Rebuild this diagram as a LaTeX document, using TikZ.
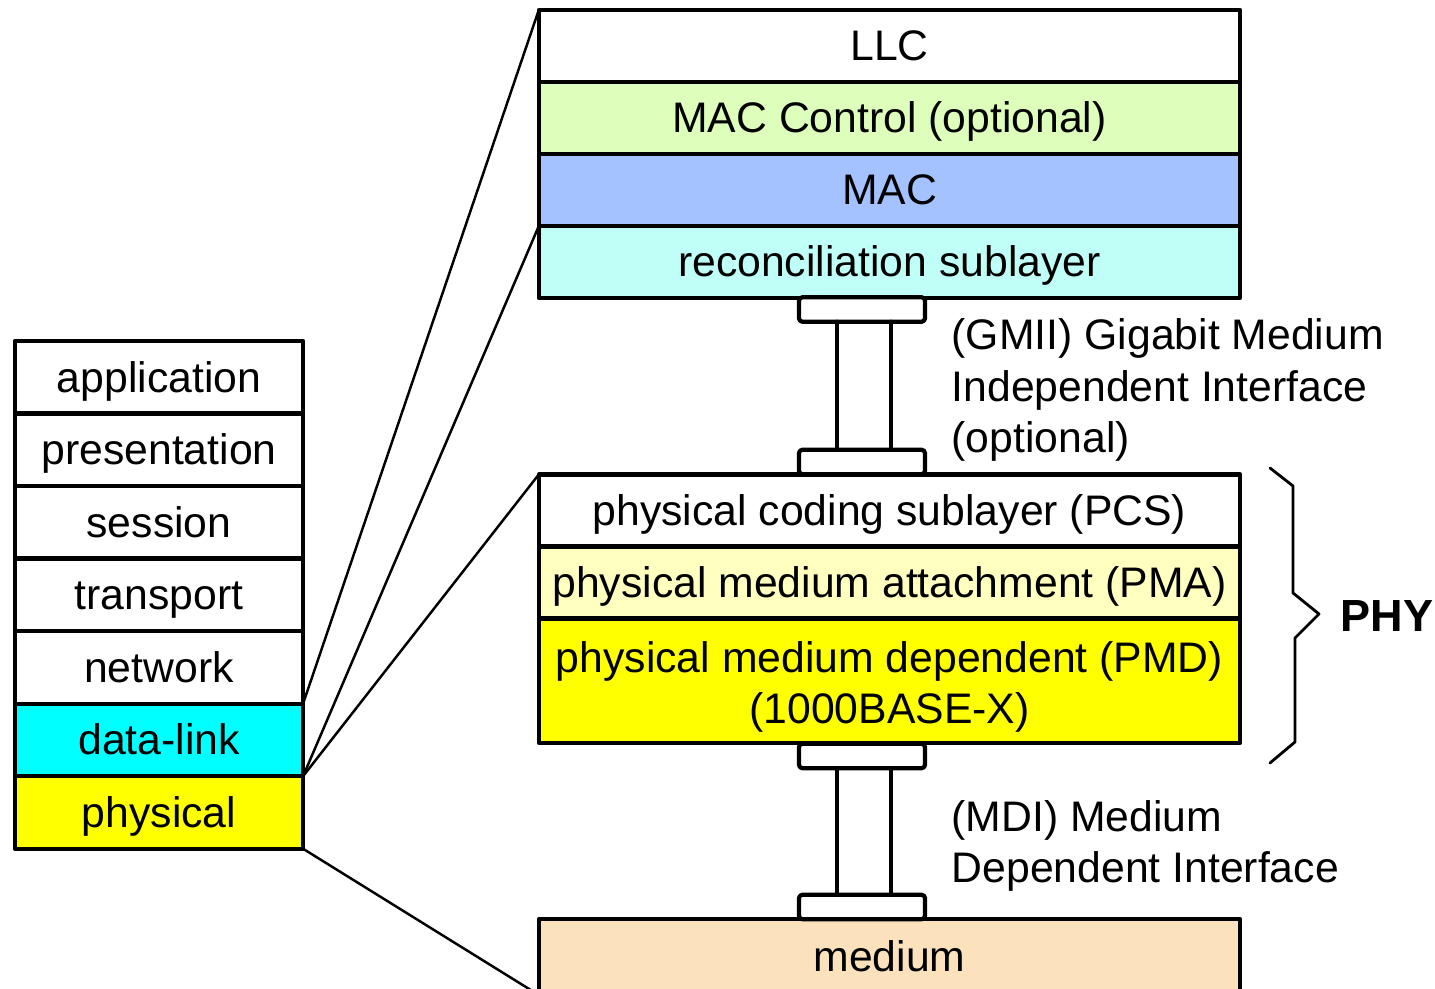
\documentclass[tikz,border=0pt]{standalone}
\usepackage{fontspec}
\setmainfont{Liberation Sans}
\usetikzlibrary{positioning}
\definecolor{dlcyan}{RGB}{0,255,255}
\definecolor{phyel}{RGB}{255,255,0}
\definecolor{macctl}{RGB}{221,255,187}
\definecolor{macblue}{RGB}{163,194,255}
\definecolor{recon}{RGB}{191,255,248}
\definecolor{pmayel}{RGB}{255,255,192}
\definecolor{medtan}{RGB}{252,226,188}
\begin{document}
\begin{tikzpicture}[x=0.01cm,y=-0.01cm,line join=round,line cap=round]
	\tikzset{every node/.style={font=\fontsize{12.15}{14.6}\selectfont},
		osi/.style={draw,line width=1.2pt,inner sep=0pt,outer sep=0pt,
			minimum width=2.88cm,minimum height=0.725cm,text height=0.84em,text depth=0pt},
		sub/.style={draw,line width=1.2pt,inner sep=0pt,outer sep=0pt,
			minimum width=7.01cm,minimum height=0.72cm,text height=0.84em,text depth=0pt},
		flange/.style={draw,fill=white,line width=1.2pt,rounded corners=1pt,
			inner sep=0pt,outer sep=0pt,minimum width=1.26cm,minimum height=0.245cm},
		thin/.style={line width=0.7pt}}
	\clip (0,0) rectangle (1435,989);
	% OSI stack
	\node[osi] (app) at (159,377.25) {application};
	\node[osi,below=0pt of app] (pres) {presentation};
	\node[osi,below=0pt of pres] (sess) {session};
	\node[osi,below=0pt of sess] (trans) {transport};
	\node[osi,below=0pt of trans] (net) {network};
	\node[osi,below=0pt of net,fill=dlcyan] (dl) {data-link};
	\node[osi,below=0pt of dl,fill=phyel] (phys) {physical};
	% upper sublayers
	\node[sub] (llc) at (889.5,46) {LLC};
	\node[sub,below=0pt of llc,fill=macctl] (macc) {MAC Control (optional)};
	\node[sub,below=0pt of macc,fill=macblue] (mac) {MAC};
	\node[sub,below=0pt of mac,fill=recon] (rs) {reconciliation sublayer};
	% PHY sublayers
	\node[sub] (pcs) at (889.5,510.5) {physical coding sublayer (PCS)};
	\node[sub,below=0pt of pcs,fill=pmayel] (pma) {physical medium attachment (PMA)};
	\node[sub,below=0pt of pma,fill=phyel,minimum height=1.24cm] (pmd) {};
	\node[align=center,inner sep=0pt] (pmdtext) at ([yshift=-0.065cm]pmd.center)
		{physical medium dependent (PMD)\\(1000BASE-X)};
	\node[sub,fill=medtan,minimum height=0.76cm] (med) at (889.5,957) {medium};
	% interfaces
	\node[flange] (gtop) at (862,309.5) {};
	\node[flange] (gbot) at (862,462) {};
	\draw[line width=1.2pt] ([xshift=-0.25cm]gtop.south) -- ([xshift=-0.25cm]gbot.north)
		([xshift=0.29cm]gtop.south) -- ([xshift=0.29cm]gbot.north);
	\node[flange] (mtop) at (862,756) {};
	\node[flange] (mbot) at (862,907) {};
	\draw[line width=1.2pt] ([xshift=-0.25cm]mtop.south) -- ([xshift=-0.25cm]mbot.north)
		([xshift=0.29cm]mtop.south) -- ([xshift=0.29cm]mbot.north);
	\node[anchor=west,align=left,inner sep=0pt] (gmii) at (951,390)
		{(GMII) Gigabit Medium\\Independent Interface\\(optional)};
	\node[anchor=west,align=left,inner sep=0pt] (mdi) at (951,846)
		{(MDI) Medium\\Dependent Interface};
	% zoom lines
	\draw[thin] (dl.north east) -- (llc.north west);
	\draw[thin] (dl.south east) -- (rs.north west);
	\draw[thin] (dl.south east) -- (pcs.north west);
	\draw[thin] (phys.south east) -- (med.south west);
	% brace
	\draw[line width=0.8pt] (1270,468) -- (1293,486) -- (1293,593) -- (1319,614)
		-- (1295,638) -- (1295,742) -- (1270,763);
	\node[font=\fontsize{12.8}{15}\selectfont\bfseries] (phy) at (1387,616) {PHY};
\end{tikzpicture}
\end{document}
